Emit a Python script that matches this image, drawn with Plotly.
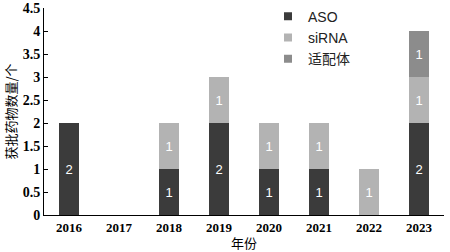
import plotly.graph_objects as go

years = ["2016", "2017", "2018", "2019", "2020", "2021", "2022", "2023"]
aso = [2, 0, 1, 2, 1, 1, 0, 2]
sirna = [0, 0, 1, 1, 1, 1, 1, 1]
aptamer = [0, 0, 0, 0, 0, 0, 0, 1]
series_names = ["ASO", "siRNA", "适配体"]
colors = ["#3b3b3b", "#b3b3b3", "#8c8c8c"]

fig = go.Figure()
for name, vals, col in zip(series_names, [aso, sirna, aptamer], colors):
    fig.add_trace(go.Bar(
        x=years, y=vals, name=name, marker_color=col, marker_line_width=0,
        text=[str(v) if v else "" for v in vals], textposition="inside",
        insidetextanchor="middle",
        textfont=dict(color="white", size=13, family="Liberation Sans"),
        showlegend=False, width=0.4,
    ))
    fig.add_trace(go.Scatter(
        x=[None], y=[None], mode="markers", name=name,
        marker=dict(symbol="square", size=8, color=col),
    ))

fig.update_layout(
    width=450, height=252, barmode="stack",
    margin=dict(l=44, r=6, t=8, b=37, autoexpand=False),
    plot_bgcolor="white", paper_bgcolor="white",
    legend=dict(x=0.56, y=1.035, xanchor="left", yanchor="top", traceorder="normal",
                font=dict(size=14, family="Liberation Sans, Noto Sans CJK SC", color="#222"),
                itemwidth=30, tracegroupgap=0, bgcolor="rgba(0,0,0,0)"),
    xaxis=dict(type="category", showline=True, linecolor="black", linewidth=1, automargin=False,
               ticks="", tickfont=dict(family="Liberation Serif", size=13, color="black", weight="bold"),
               title=dict(text="年份", font=dict(family="Noto Sans CJK SC", size=13, color="black"), standoff=2)),
    yaxis=dict(range=[0, 4.5], dtick=0.5, showline=True, linecolor="black", linewidth=1, automargin=False,
               ticks="inside", ticklen=4, tickcolor="black", showgrid=False, zeroline=False,
               tickfont=dict(family="Liberation Serif", size=14, color="black", weight="bold"),
               title=dict(text="获批药物数量/个", font=dict(family="Noto Sans CJK SC", size=13, color="black"), standoff=3)),
    font=dict(family="Liberation Sans"),
)
fig.write_html("out.html")
